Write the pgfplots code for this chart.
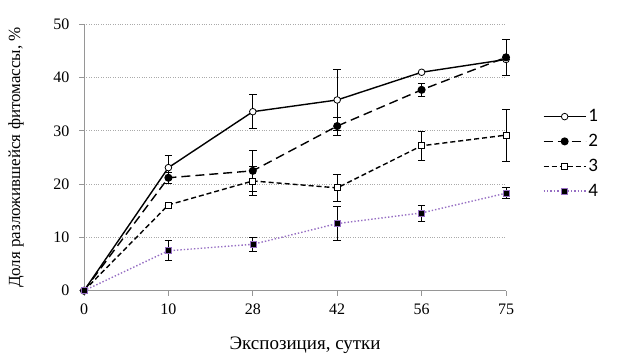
\documentclass[border=0pt]{standalone}
\usepackage{fontspec}
\setmainfont{Liberation Serif}
\newfontfamily\legfont{Carlito}
\usepackage{pgfplots}
\pgfplotsset{compat=1.18}
\definecolor{gridc}{RGB}{170,170,170}
\definecolor{axc}{RGB}{150,150,150}
\definecolor{purp}{RGB}{150,110,195}
\begin{document}
\begin{tikzpicture}[x=1pt,y=1pt]
\path (0,0) rectangle (636,360);
\begin{axis}[
  at={(84pt,69.3pt)}, anchor=south west,
  scale only axis, width=422pt, height=266.4pt,
  xmin=0, xmax=5, ymin=0, ymax=50,
  xtick={0,1,2,3,4,5}, xticklabels={0,10,28,42,56,75},
  ytick={0,10,20,30,40,50},
  axis x line*=bottom, axis y line*=left,
  axis line style={axc, line width=0.8pt, -},
  tick align=outside, major tick length=5pt,
  tick style={axc, line width=0.8pt},
  ymajorgrids, major grid style={gridc, dotted, line width=0.8pt},
  ticklabel style={font=\fontsize{16}{18}\selectfont},
  yticklabel style={xshift=-6pt},
  xticklabel style={yshift=-5pt},
  /pgf/number format/assume math mode=true,
  xlabel={Экспозиция, сутки}, ylabel={Доля разложившейся фитомассы, \%},
  xlabel style={font=\fontsize{19}{22}\selectfont, at={(axis description cs:0.524,-0.204)}, anchor=center},
  ylabel style={font=\fontsize{17}{20}\selectfont, at={(axis description cs:-0.161,0.5)}, anchor=center, rotate=0},
  clip=false,
  legend style={at={(1.08,0.695)}, anchor=north west, draw=none, fill=none,
    font=\legfont\fontsize{19}{21}\selectfont, row sep=7pt},
  legend cell align=left,
  legend image code/.code={\draw[mark repeat=2,mark phase=2,#1] plot coordinates {(0pt,0pt)(21pt,0pt)(42pt,0pt)};},
  error bars/error bar style={black, line width=0.8pt, solid},
  error bars/error mark options={rotate=90, mark size=3.8pt, black, line width=0.8pt, solid},
]
\addplot[black, line width=1.4pt, solid, mark=*, mark size=3.3pt, mark options={fill=white, solid, line width=0.8pt},
  error bars/.cd, y dir=both, y explicit]
  coordinates {(0,0) +- (0,0) (1,23.1) +- (0,2.3) (2,33.6) +- (0,3.2) (3,35.8) +- (0,5.7) (4,41.0) +- (0,0) (5,43.4) +- (0,0)};
\addlegendentry{1}
\addplot[black, line width=1.4pt, dash pattern=on 9pt off 5pt, mark=*, mark size=3.3pt, mark options={fill=black, solid},
  error bars/.cd, y dir=both, y explicit]
  coordinates {(0,0) +- (0,0) (1,21.2) +- (0,1.0) (2,22.5) +- (0,3.9) (3,30.9) +- (0,1.7) (4,37.7) +- (0,1.2) (5,43.8) +- (0,3.3)};
\addlegendentry{2}
\addplot[black, line width=1.4pt, dash pattern=on 5pt off 3pt, mark=square*, mark size=3pt, mark options={fill=white, solid, line width=0.8pt},
  error bars/.cd, y dir=both, y explicit]
  coordinates {(0,0) +- (0,0) (1,16.1) +- (0,0) (2,20.6) +- (0,2.8) (3,19.3) +- (0,2.6) (4,27.2) +- (0,2.7) (5,29.2) +- (0,4.9)};
\addlegendentry{3}
\addplot[purp, line width=1.4pt, dotted, mark=square*, mark size=3pt, mark options={fill=black, draw=purp, solid, line width=0.6pt},
  error bars/.cd, y dir=both, y explicit]
  coordinates {(0,0) +- (0,0) (1,7.5) +- (0,1.9) (2,8.7) +- (0,1.3) (3,12.6) +- (0,3.2) (4,14.6) +- (0,1.5) (5,18.3) +- (0,1.0)};
\addlegendentry{4}
\end{axis}
\end{tikzpicture}
\end{document}
